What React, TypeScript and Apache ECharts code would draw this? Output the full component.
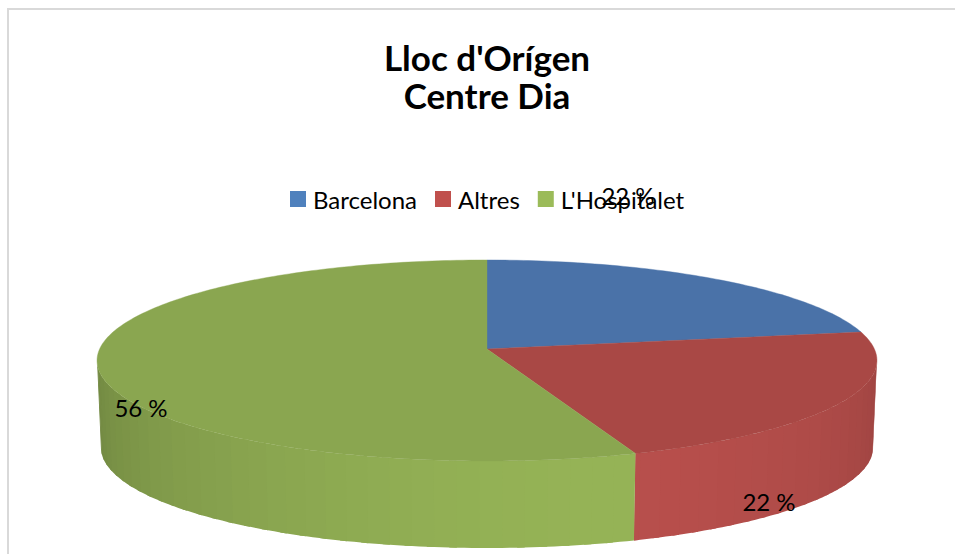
import React, { useEffect, useRef } from "react";
import * as echarts from "echarts";

const categories = ["Barcelona", "Altres", "L'Hospitalet"];
const values = [2, 2, 5];
const swatchColors = ["#4f81bd", "#c0504d", "#9bbb59"];
const topColors = ["#4a72a8", "#a94845", "#8aa650"];
const sideColors = ["#4f81bd", "#b84f4c", "#95b356"];
const labelPositions = [
  [628, 195],
  [769, 501],
  [141, 407],
];
const titleLines = ["Lloc d'Orígen", "Centre Dia"];

const FONT = "Lato, Carlito, 'Open Sans', sans-serif";
const total = values.reduce((a, b) => a + b, 0);

// Perspective projection of the pie disc: apex (cx, cy), tilt k.
const cx = 487;
const cy = 349;
const fx = 387.4;
const fy = 99.2;
const k = 0.1144;
const depth = 87;
const SIL_A = 96.3;
const SIL_B = 263.7;

function project(deg: number, h: number): number[] {
  const t = (deg * Math.PI) / 180;
  const u = Math.sin(t);
  const v = Math.cos(t);
  const w = 1 + k * v;
  return [cx + ((fx * u) / w) * (1 - 0.01 * h), cy - (fy * v) / w + depth * h];
}

function arc(a: number, b: number, h: number): number[][] {
  const pts: number[][] = [];
  const n = Math.max(1, Math.ceil(Math.abs(b - a)));
  for (let i = 0; i <= n; i++) pts.push(project(a + ((b - a) * i) / n, h));
  return pts;
}

function shade(hex: string, f: number): string {
  const n = parseInt(hex.slice(1), 16);
  const c = [(n >> 16) & 255, (n >> 8) & 255, n & 255].map((x) => Math.round(x * f));
  return `rgb(${c[0]},${c[1]},${c[2]})`;
}

function sliceRenderer(index: number) {
  return (_params: any, api: any) => {
    const value = api.value(0);
    const before = values.slice(0, index).reduce((a, b) => a + b, 0);
    const start = (before / total) * 360;
    const end = start + (value / total) * 360;
    const children: any[] = [];

    const sA = Math.max(start, SIL_A);
    const sB = Math.min(end, SIL_B);
    const STEP = 3;
    // Each strip runs a little under its neighbour, so that no seam shows between them.
    const strips: number[][] = [];
    for (let a = sA; a < sB - 0.01; a += STEP) strips.push([a, Math.min(a + STEP, sB)]);
    strips.forEach(([a, b]) => {
      const mid = (a + b) / 2;
      const t = Math.min(1, Math.max(0, Math.abs(mid - 165) / 100));
      const fill = shade(sideColors[index], 1 - 0.25 * Math.pow(t, 1.5));
      const extended = Math.min(b + 1, sB);
      children.push({
        type: "polygon",
        shape: { points: [...arc(a, extended, 0), ...arc(extended, a, 1)] },
        style: { fill },
      });
    });

    children.push({
      type: "polygon",
      shape: { points: [[cx, cy], ...arc(start, end, 0)] },
      style: { fill: topColors[index], stroke: topColors[index], lineWidth: 0.4 },
    });

    const pct = Math.round((value / total) * 100);
    children.push({
      type: "text",
      style: {
        text: `${pct} %`,
        x: labelPositions[index][0],
        y: labelPositions[index][1],
        font: `24px ${FONT}`,
        fill: "#000000",
        textAlign: "center",
        textVerticalAlign: "middle",
      },
    });
    return { type: "group", children };
  };
}

export default function App() {
  const ref = useRef<HTMLDivElement>(null);
  useEffect(() => {
    const chart = echarts.init(ref.current!, undefined, { renderer: "svg" });
    chart.setOption({
      animation: false,
      backgroundColor: "#ffffff",
      legend: {
        data: categories,
        left: 285,
        top: 182,
        itemWidth: 16,
        itemHeight: 16,
        itemGap: 18,
        icon: "rect",
        textStyle: {
          fontFamily: FONT,
          fontSize: 24,
          color: "#000000",
          padding: [0, 0, 0, 2],
        },
      },
      graphic: [
        {
          type: "polyline",
          shape: { points: [[8, 554], [8, 9], [955, 9]] },
          style: { stroke: "#d9d9d9", lineWidth: 2, fill: "none" },
          silent: true,
        },
        ...titleLines.map((text, i) => ({
          type: "text",
          x: 487,
          y: 57 + i * 38,
          silent: true,
          style: {
            text,
            font: `bold 35px ${FONT}`,
            fill: "#000000",
            textAlign: "center",
            textVerticalAlign: "middle",
          },
        })),
      ],
      series: categories.map((name, i) => ({
        type: "custom",
        name,
        coordinateSystem: "none",
        silent: true,
        itemStyle: { color: swatchColors[i] },
        renderItem: sliceRenderer(i),
        data: [[values[i]]],
      })),
    });
    return () => chart.dispose();
  }, []);
  return (
    <div
      ref={ref}
      style={{ position: "fixed", left: 0, top: 0, width: 955, height: 554 }}
    />
  );
}
